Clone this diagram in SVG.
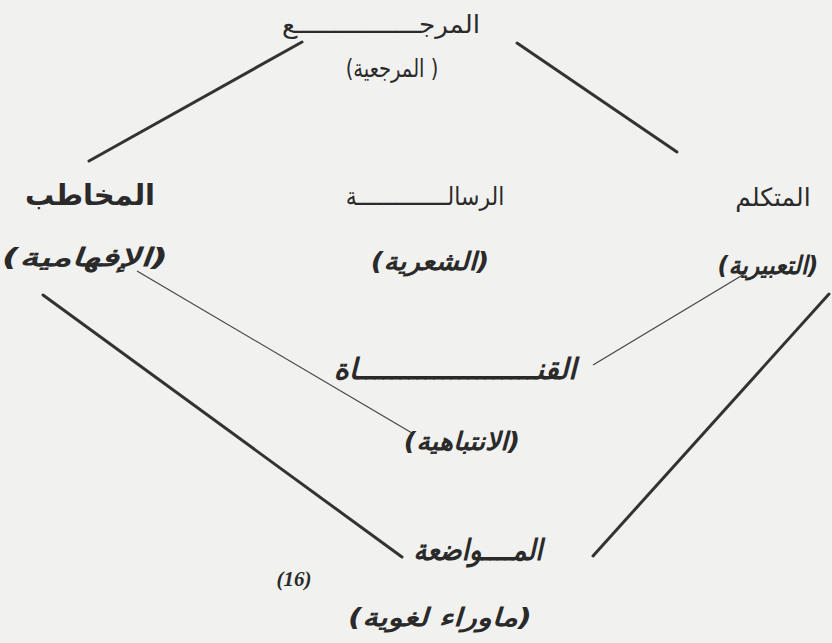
<svg xmlns="http://www.w3.org/2000/svg" width="832" height="643" viewBox="0 0 832 643">
<style>
.ar{font-family:"DejaVu Sans",sans-serif;fill:#2a2a2a;text-anchor:middle;direction:rtl;unicode-bidi:embed}
.reg{font-size:25px}
.bi{font-size:25px;font-weight:bold;font-style:italic}
.big{font-size:29px;font-weight:bold}
.thick{stroke:#333;stroke-width:3;fill:none;stroke-linecap:round}
.thin{stroke:#444;stroke-width:1.2;fill:none}
.num{font-family:"Liberation Serif",serif;font-size:21px;font-weight:bold;font-style:italic;fill:#2a2a2a;text-anchor:middle}
</style>
<rect width="832" height="643" fill="#f1f1ef"/>
<g id="connectors">
<line class="thick" x1="89" y1="161" x2="302" y2="42"/>
<line class="thick" x1="517" y1="43" x2="677" y2="152"/>
<line class="thick" x1="43" y1="295" x2="402" y2="557"/>
<line class="thick" x1="829" y1="294" x2="593" y2="556"/>
<line class="thin" x1="137" y1="271" x2="412" y2="433"/>
<line class="thin" x1="593" y1="365" x2="746" y2="273"/>
</g>
<g id="reference">
<text class="ar reg" transform="translate(381,33) scale(1.05,1)">المرجــــــــــــــــع</text>
<text class="ar reg" font-size="22" transform="translate(392,77) scale(0.78,1)">( المرجعية)</text>
</g>
<g id="addressee">
<text class="ar big" transform="translate(90,205)">المخاطب</text>
<text class="ar bi" font-size="26" transform="translate(85,266) scale(1.52,1)">(الإفهامية)</text>
</g>
<g id="message">
<text class="ar reg" transform="translate(425,205) scale(0.88,1)">الرسالــــــــــــــة</text>
<text class="ar bi" transform="translate(430,270) scale(1.12,1)">(الشعرية)</text>
</g>
<g id="speaker">
<text class="ar reg" transform="translate(773,206)">المتكلم</text>
<text class="ar bi" transform="translate(768,274) scale(0.95,1)">(التعبيرية)</text>
</g>
<g id="channel">
<text class="ar big" font-style="italic" transform="translate(455,379)">القنـــــــــــــــــــــاة</text>
<text class="ar bi" transform="translate(462,450) scale(1.08,1)">(الانتباهية)</text>
</g>
<g id="code">
<text class="ar big" font-style="italic" transform="translate(478,560) scale(0.89,1)">المــــواضعة</text>
<text class="ar bi" transform="translate(440,626) scale(1.24,1)">(ماوراء لغوية)</text>
</g>
<g id="footnote">
<text class="num" transform="translate(294,586)">(16)</text>
</g>
</svg>
